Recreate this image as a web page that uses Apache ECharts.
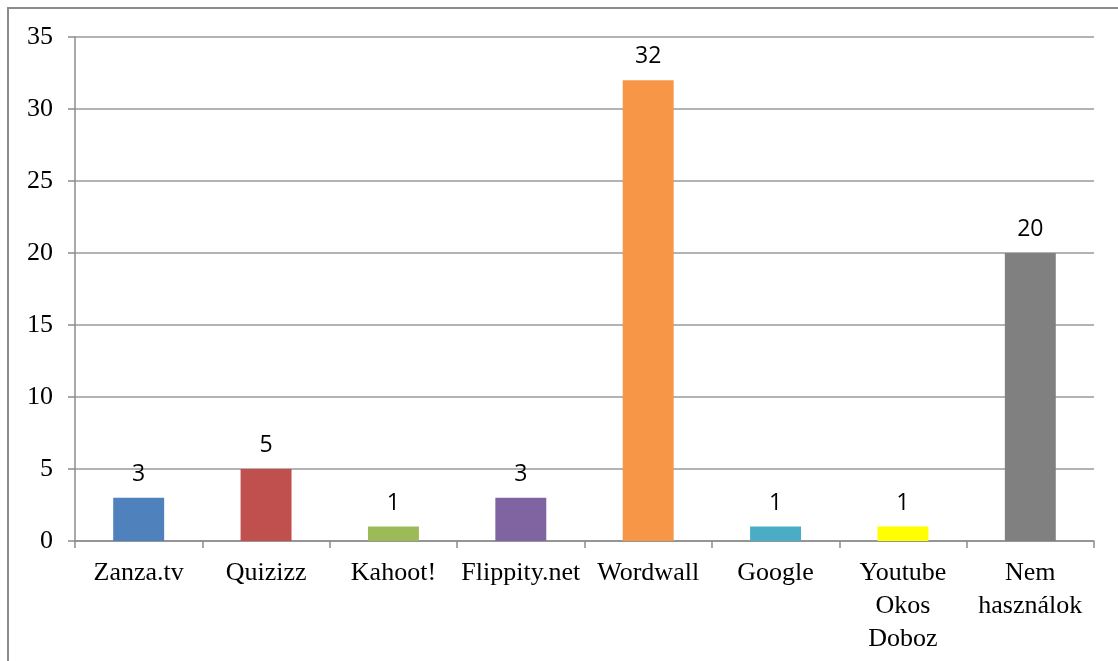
<!DOCTYPE html>
<html><head><meta charset="utf-8">
<script src="https://cdn.jsdelivr.net/npm/echarts@6/dist/echarts.min.js"></script>
<style>html,body{margin:0;padding:0;background:#fff}#c{width:1118px;height:661px}</style>
</head><body><div id="c"></div>
<script>
const categories = ["Zanza.tv","Quizizz","Kahoot!","Flippity.net","Wordwall","Google","Youtube\nOkos\nDoboz","Nem\nhasználok"];
const values = [3,5,1,3,32,1,1,20];
const colors = ["#4F81BD","#C0504D","#9BBB59","#8064A2","#F79646","#4BACC6","#FFFF00","#808080"];
const yTicks = {min:0,max:35,interval:5};

const chart = echarts.init(document.getElementById('c'));
chart.setOption({
  animation:false,
  graphic:[{type:'rect',shape:{x:8,y:8,width:1130,height:700},style:{fill:'none',stroke:'#8c8c8c',lineWidth:2}}],
  grid:{left:75,right:24,top:37,bottom:120},
  xAxis:{type:'category',data:categories,
    axisLine:{lineStyle:{color:'#8c8c8c',width:1.5}},
    axisTick:{show:true,alignWithLabel:false,length:7,lineStyle:{color:'#8c8c8c',width:1.5}},
    axisLabel:{interval:0,margin:16,color:'#000',fontFamily:'Liberation Serif',fontSize:26,lineHeight:33}},
  yAxis:{type:'value',min:yTicks.min,max:yTicks.max,interval:yTicks.interval,
    axisLine:{show:true,lineStyle:{color:'#8c8c8c',width:1.5}},
    axisTick:{show:true,length:7,lineStyle:{color:'#8c8c8c',width:1.5}},
    splitLine:{lineStyle:{color:'#9a9a9a',width:1.5}},
    axisLabel:{margin:22,color:'#000',fontFamily:'Liberation Serif',fontSize:26}},
  series:[{type:'bar',barCategoryGap:'60%',
    data:values.map((v,i)=>({value:v,itemStyle:{color:colors[i]}})),
    label:{show:true,position:'top',distance:12,color:'#000',fontFamily:'Open Sans',fontSize:23}}]
});
</script></body></html>
